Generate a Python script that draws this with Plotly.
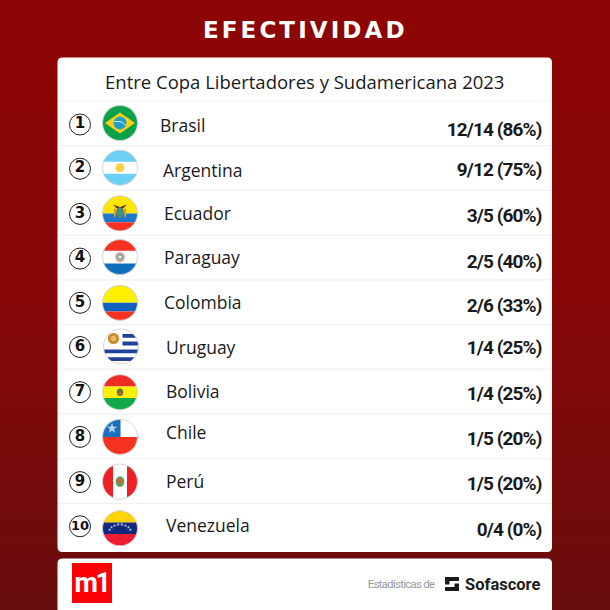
import numpy as np
import plotly.graph_objects as go

ranks = ["1", "2", "3", "4", "5", "6", "7", "8", "9", "10"]
countries = ["Brasil", "Argentina", "Ecuador", "Paraguay", "Colombia",
             "Uruguay", "Bolivia", "Chile", "Perú", "Venezuela"]
wins = [12, 9, 3, 2, 2, 1, 1, 1, 1, 0]
played = [14, 12, 5, 5, 6, 4, 4, 5, 5, 4]
pcts = [86, 75, 60, 40, 33, 25, 25, 20, 20, 0]

title = "EFECTIVIDAD"
subtitle = "Entre Copa Libertadores y Sudamericana 2023"

# the row layout of the original is a bit uneven, so per row nudges
row_top = 101
row_h = 44.7
rank_dy = [1.5, 1, 1.5, 1.5, 1, 0.5, 1, 1, 1.5, 1]
flag_dy = [0, 0, 1, 0, 1, 0, 1, 1, 1, 3]
flag_dx = [0, 0, 0, 0, 0, 1, 0, 0, 0, 0]
name_x = [160, 163, 164, 164, 164, 166, 166, 166, 166, 166]
name_dy = [5, 5, 3.5, 3, 3, 3.5, 2, -1, 3.5, 2]
val_dy = [8, 4, 5, 6, 5, 2.5, 4, 4, 4.5, 5.5]

FLAG_R = 17.5
TEXT_FONT = "Open Sans"
BOLD_NARROW = "Roboto"


def row_y(i):
    return row_top + row_h * i + 22


def rounded(x0, y0, x1, y1, r):
    return (f"M {x0+r} {y0} L {x1-r} {y0} Q {x1} {y0} {x1} {y0+r} L {x1} {y1-r} Q {x1} {y1} {x1-r} {y1} "
            f"L {x0+r} {y1} Q {x0} {y1} {x0} {y1-r} L {x0} {y0+r} Q {x0} {y0} {x0+r} {y0} Z")


def poly(pts):
    return "M " + " L ".join(f"{a:.2f} {b:.2f}" for a, b in pts) + " Z"


def hband(cx, cy, r, y0, y1):
    # piece of the flag disc between two heights, given relative to centre
    a = np.linspace(np.arcsin(y0), np.arcsin(y1), 24)
    right = [(cx + r * np.cos(t), cy + r * np.sin(t)) for t in a]
    left = [(cx - r * np.cos(t), cy + r * np.sin(t)) for t in a[::-1]]
    return poly(right + left)


def vband(cx, cy, r, x0, x1):
    a = np.linspace(np.arcsin(x0), np.arcsin(x1), 24)
    bottom = [(cx + r * np.sin(t), cy + r * np.cos(t)) for t in a]
    top = [(cx + r * np.sin(t), cy - r * np.cos(t)) for t in a[::-1]]
    return poly(bottom + top)


shapes = []


def add_path(path, color):
    shapes.append(dict(type="path", path=path, fillcolor=color, line_width=0, layer="below"))


def add_dot(cx, cy, rx, color, ry=None, line=None):
    ry = rx if ry is None else ry
    shapes.append(dict(type="circle", x0=cx-rx, x1=cx+rx, y0=cy-ry, y1=cy+ry, fillcolor=color,
                       line=dict(width=0.6 if line else 0, color=line or color), layer="below"))


# background, strips overlap all the way down so no seams show
grad_stops_y = [0, 300, 450, 610]
grad_stops_r = [142, 135, 120, 104]
grad_stops_g = [5, 7, 10, 13]
grad_stops_b = [5, 7, 10, 13]
for y in range(0, 610, 6):
    c = (np.interp(y, grad_stops_y, grad_stops_r), np.interp(y, grad_stops_y, grad_stops_g),
         np.interp(y, grad_stops_y, grad_stops_b))
    shapes.append(dict(type="rect", x0=0, x1=610, y0=y, y1=610, line_width=0, layer="below",
                       fillcolor=f"rgb({c[0]:.0f},{c[1]:.0f},{c[2]:.0f})"))

# cards
add_path(rounded(57.5, 57.5, 552, 552, 5), "white")
add_path(rounded(57.5, 558.5, 552, 625, 5), "white")
for i in range(10):
    y = row_top + row_h * i
    shapes.append(dict(type="line", x0=58, x1=552, y0=y, y1=y, line=dict(color="#f1f1f1", width=1.2), layer="below"))

# flags
stars_x, stars_y, stars_s = [], [], []
for i, name in enumerate(countries):
    cx = 120 + flag_dx[i]
    cy = row_y(i) + flag_dy[i]
    r = FLAG_R
    if name == "Brasil":
        add_dot(cx, cy, r, "#0ba14b")
        add_path(poly([(cx-15, cy), (cx, cy-10.5), (cx+15, cy), (cx, cy+10.5)]), "#fbd116")
        add_dot(cx, cy, 6.5, "#1e9fd0")
        add_path(poly([(cx-6, cy-2), (cx+1, cy-1.8), (cx+6, cy+2), (cx+6, cy+2.8), (cx+1, cy-0.8), (cx-6, cy-1.2)]), "#e8f3f3")
    elif name == "Argentina":
        add_dot(cx, cy, r, "#ffffff")
        add_path(hband(cx, cy, r, -1, -0.34), "#6cd0f6")
        add_path(hband(cx, cy, r, 0.34, 1), "#6cd0f6")
        add_dot(cx, cy, 4.6, "#f9d24e")
        add_dot(cx, cy, 2.2, "#fbc93a")
    elif name == "Ecuador":
        add_path(hband(cx, cy, r, -1, 0), "#ffe600")
        add_path(hband(cx, cy, r, 0, 0.5), "#1e78c8")
        add_path(hband(cx, cy, r, 0.5, 1), "#f5311f")
        add_path(poly([(cx-7, cy-9), (cx, cy-6.5), (cx+7, cy-9), (cx+3, cy-5), (cx-3, cy-5)]), "#4a3420")
        add_dot(cx, cy-1, 3.8, "#3f8f8a", ry=5, line="#8a6d2a")
        add_dot(cx-5.2, cy-1, 1, "#c9a227", ry=5)
        add_dot(cx+5.2, cy-1, 1, "#c9a227", ry=5)
    elif name == "Paraguay":
        add_dot(cx, cy, r, "#ffffff")
        add_path(hband(cx, cy, r, -1, -0.36), "#f5311f")
        add_path(hband(cx, cy, r, 0.36, 1), "#0f6fbe")
        add_dot(cx, cy, 5, "#f2a79a", ry=5.2)
        add_dot(cx, cy, 3, "#5fb3a0", ry=3.4)
        add_dot(cx, cy, 1.5, "#f7f7f0")
    elif name == "Colombia":
        add_path(hband(cx, cy, r, -1, 0), "#fff000")
        add_path(hband(cx, cy, r, 0, 0.5), "#0f62c0")
        add_path(hband(cx, cy, r, 0.5, 1), "#f5311f")
    elif name == "Uruguay":
        add_dot(cx, cy, r, "#ffffff")
        for a, b in [(-0.72, -0.5), (-0.28, -0.06), (0.17, 0.39), (0.61, 0.83)]:
            add_path(hband(cx, cy, r, a, b), "#23409a")
        add_path(poly([(cx-18, cy-18), (cx+1.5, cy-18), (cx+1.5, cy-0.5), (cx-18, cy-0.5)]), "#ffffff")
        add_dot(cx-7.5, cy-8, 5.6, "#c98a2c")
        add_dot(cx-7.5, cy-8, 2.8, "#eaba5c")
    elif name == "Bolivia":
        add_path(hband(cx, cy, r, -1, -0.33), "#ee2e24")
        add_path(hband(cx, cy, r, -0.33, 0.33), "#fff000")
        add_path(hband(cx, cy, r, 0.33, 1), "#12a84a")
        add_dot(cx, cy, 3.2, "#55724a", ry=3.8)
        add_dot(cx, cy+1, 1.6, "#d9552c")
    elif name == "Chile":
        add_dot(cx, cy, r, "#ffffff")
        add_path(hband(cx, cy, r, 0, 1), "#f5311f")
        a = np.linspace(np.pi, 1.5*np.pi, 20)
        corner = [(cx + r*np.cos(t), cy + r*np.sin(t)) for t in a]
        add_path(poly(corner + [(cx+0.5, cy-r), (cx+0.5, cy)]), "#1a6fc0")
        stars_x.append(cx-8)
        stars_y.append(cy-8.5)
        stars_s.append(8)
    elif name == "Perú":
        add_dot(cx, cy, r, "#ffffff")
        add_path(vband(cx, cy, r, -1, -0.4), "#ee2024")
        add_path(vband(cx, cy, r, 0.4, 1), "#ee2024")
        add_dot(cx, cy, 4.4, "#5aa45a", ry=5.4)
        add_dot(cx, cy-0.5, 2.5, "#c96a35", ry=3)
    elif name == "Venezuela":
        add_path(hband(cx, cy, r, -1, -0.33), "#ffd400")
        add_path(hband(cx, cy, r, -0.33, 0.33), "#14287e")
        add_path(hband(cx, cy, r, 0.33, 1), "#ef1c33")
        for t in np.linspace(200, 340, 8):
            stars_x.append(cx + 11 * np.cos(np.radians(t)))
            stars_y.append(cy + 4.5 + 8.5 * np.sin(np.radians(t)))
            stars_s.append(2.6)
    # thin grey rim goes on last, over the stripes
    shapes.append(dict(type="circle", x0=cx-r, x1=cx+r, y0=cy-r, y1=cy+r, line=dict(color="#cfcfcf", width=0.9),
                       fillcolor="rgba(0,0,0,0)", layer="below"))

# logo m1 and sofascore mark
add_path(poly([(72, 563), (112, 563), (112, 603), (72, 603)]), "#fb0006")
add_path(poly([(445, 577), (459, 577), (459, 581), (449.5, 581), (449.5, 584.5), (445, 584.5)]), "#1c1c1c")
add_path(poly([(445, 587), (454.5, 587), (454.5, 583.5), (459, 583.5), (459, 591), (445, 591)]), "#1c1c1c")

fig = go.Figure()

# rank circles
fig.add_trace(go.Scatter(
    x=[80] * len(ranks), y=[row_y(i) + rank_dy[i] for i in range(len(ranks))], mode="markers+text",
    text=ranks, textposition="middle center",
    textfont=dict(family="DejaVu Sans", size=[15] * 9 + [13], color="#111111", weight="bold"),
    marker=dict(size=21, color="white", line=dict(color="#222222", width=1)),
    hoverinfo="skip"))

# country names
fig.add_trace(go.Scatter(
    x=name_x, y=[row_y(i) + name_dy[i] for i in range(len(countries))], mode="text",
    text=countries, textposition="middle right",
    textfont=dict(family=TEXT_FONT, size=17.5, color="#1a1a1a"), hoverinfo="skip"))

# results
labels = [f"{w}/{p} ({q}%)" for w, p, q in zip(wins, played, pcts)]
fig.add_trace(go.Scatter(
    x=[541.5] * len(labels), y=[row_y(i) + val_dy[i] for i in range(len(labels))], mode="text",
    text=labels, textposition="middle left",
    textfont=dict(family=BOLD_NARROW, size=19, color="#1a1a1a", weight="bold"), hoverinfo="skip"))

# little flag stars
fig.add_trace(go.Scatter(
    x=stars_x, y=stars_y, mode="markers",
    marker=dict(symbol="star", size=stars_s, color="white", line_width=0), hoverinfo="skip"))

notes = [
    dict(x=305.5, y=30, text=title, font=dict(family="DejaVu Sans", size=23, color="white", weight="bold")),
    dict(x=304.5, y=81.5, text=subtitle, font=dict(family=TEXT_FONT, size=18.5, color="#1a1a1a")),
    dict(x=91.5, y=583, text="m1", font=dict(family="Roboto", size=27, color="white", weight="bold")),
    dict(x=401, y=584, text="Estadísticas de", font=dict(family="Roboto", size=11.5, color="#9a9a9a")),
    dict(x=502, y=584, text="Sofascore", font=dict(family="Roboto", size=16.5, color="#1c1c1c", weight="bold")),
]
for n in notes:
    fig.add_annotation(showarrow=False, xref="x", yref="y", xanchor="center", yanchor="middle", **n)

fig.update_layout(width=610, height=610, margin=dict(l=0, r=0, t=0, b=0), showlegend=False,
                  paper_bgcolor="#7c0b0b", plot_bgcolor="rgba(0,0,0,0)", shapes=shapes)
fig.update_xaxes(range=[0, 610], visible=False)
fig.update_yaxes(range=[610, 0], visible=False)

# plotly has no letter spacing, set it on the drawn texts
post = """
document.body.style.margin='0';document.body.style.overflow='hidden';
var sp = {'EFECTIVIDAD':['3.1px','0.8px white'], 'm1':['-2.5px',''], 'Estadísticas de':['-0.75px','']};
document.querySelectorAll('.annotation-text').forEach(function(t){
  var s = sp[t.textContent];
  if (s) { t.style.letterSpacing = s[0]; if (s[1]) t.style.webkitTextStroke = s[1]; }
});
document.querySelectorAll('.textpoint text').forEach(function(t){
  if (t.textContent.indexOf('(') >= 0) t.style.letterSpacing = '-0.9px';
});
"""
fig.write_html("out.html", config=dict(displayModeBar=False), post_script=post)
